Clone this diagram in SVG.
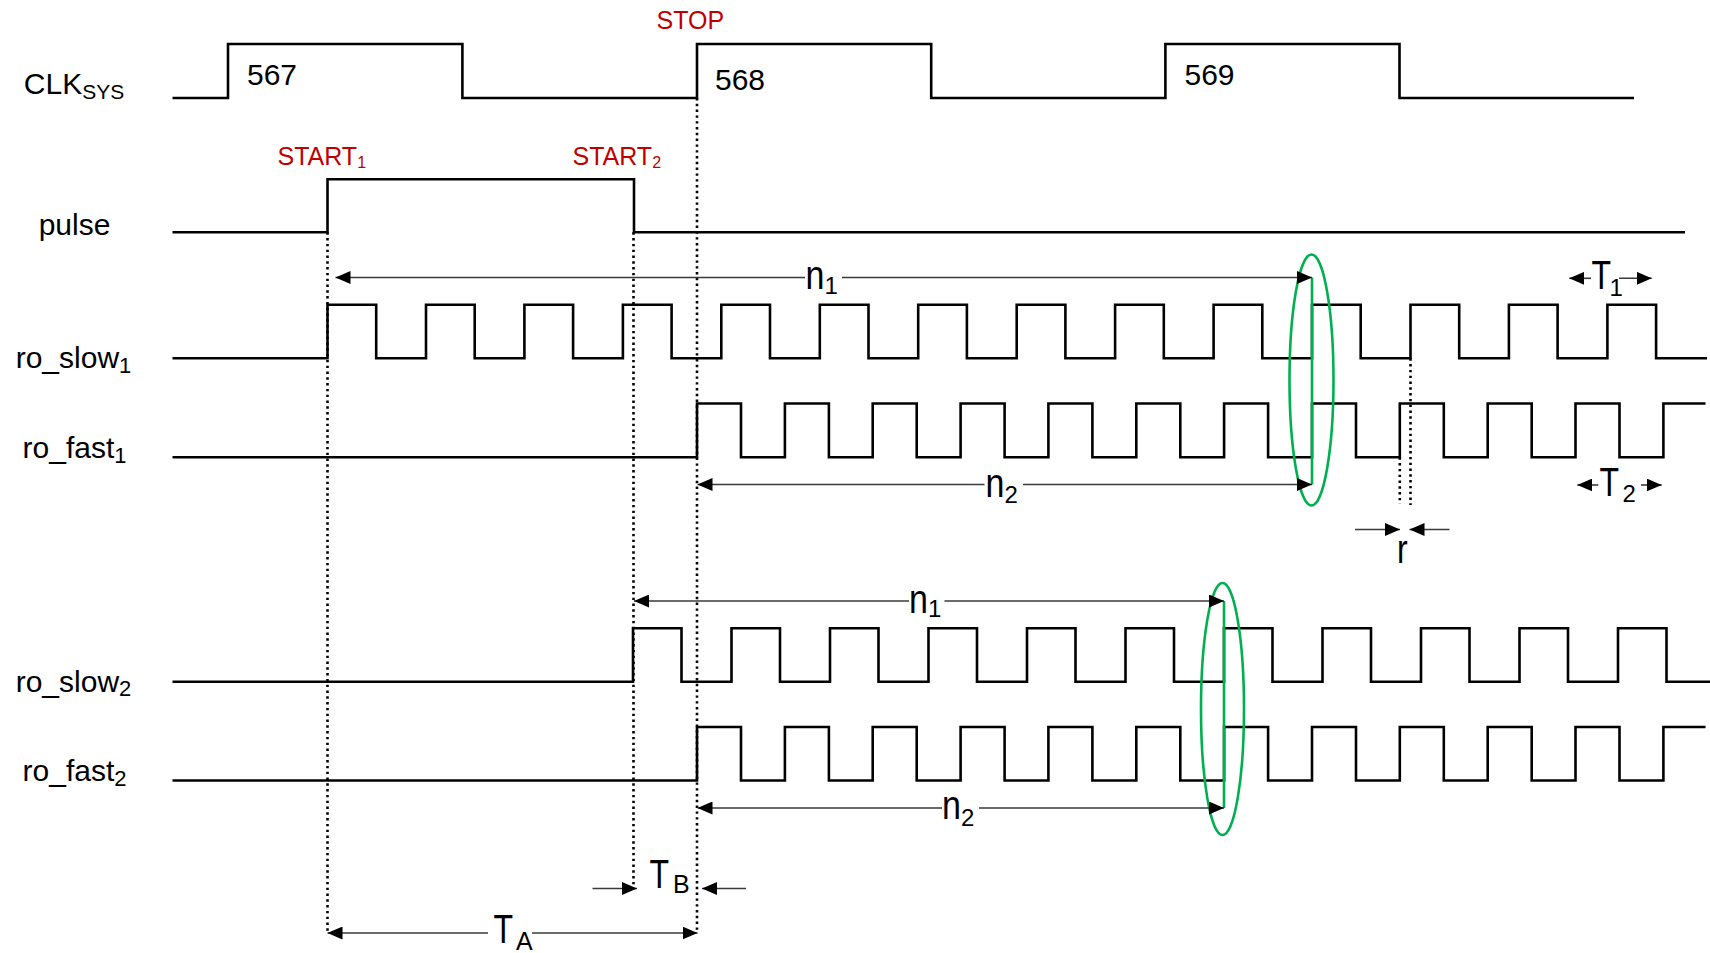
<svg xmlns="http://www.w3.org/2000/svg" width="1710" height="953" viewBox="0 0 1710 953">
<style>
.w{fill:none;stroke:#000;stroke-width:2.6}
.dot{fill:none;stroke:#000;stroke-width:2.6;stroke-dasharray:2.4 3.4}
.dim{fill:none;stroke:#3a3a3a;stroke-width:1.6;marker-end:url(#ah)}
.g{fill:none;stroke:#00B050;stroke-width:2.6}
.lbl{font-family:"Liberation Sans",Arial,sans-serif;font-size:30px;fill:#000}
.red{font-family:"Liberation Sans",Arial,sans-serif;font-size:25px;fill:#C00000}
.big{font-family:"Liberation Sans",Arial,sans-serif;font-size:40px;fill:#000}
.sub{font-family:"Liberation Sans",Arial,sans-serif;font-size:24px;fill:#000}
.subl{font-family:"Liberation Sans",Arial,sans-serif;font-size:25px;fill:#000}
</style>
<defs>
<marker id="ah" markerUnits="userSpaceOnUse" markerWidth="15" markerHeight="13" refX="15" refY="6.5" orient="auto"><path d="M0,0 L15,6.5 L0,13 Z" fill="#000"/></marker>
</defs>
<rect width="1710" height="953" fill="#fff"/>

<g id="clk">
<text class="lbl" x="74" y="94.3" text-anchor="middle">CLK<tspan font-size="21" dy="5">SYS</tspan></text>
<path class="w" d="M172.5,98 H228 V44 H462.4 V98 H697 V44 H931.2 V98 H1165.4 V44 H1399.5 V98 H1634"/>
<text class="lbl" x="247" y="85">567</text>
<text class="lbl" x="715" y="90">568</text>
<text class="lbl" x="1184.5" y="85">569</text>
<text class="red" x="656.5" y="28.5">STOP</text>
</g>

<g id="pulse">
<text class="lbl" x="74.5" y="235" text-anchor="middle">pulse</text>
<path class="w" d="M172.5,232.3 H327.5 V179.3 H634 V232.3 H1685"/>
<text class="red" x="277.5" y="164.5">START<tspan font-size="16" dy="3">1</tspan></text>
<text class="red" x="572.5" y="164.5">START<tspan font-size="16" dy="3">2</tspan></text>
</g>

<g id="ro_slow1">
<text class="lbl" x="73.5" y="368" text-anchor="middle">ro_slow<tspan font-size="22" dy="4.5">1</tspan></text>
<path class="w" d="M172.5,358.3 H327.5 V304.7 H376.2 V358.3 H426 V304.7 H474.7 V358.3 H524.4 V304.7 H573.1 V358.3 H622.9 V304.7 H671.6 V358.3 H721.3 V304.7 H770 V358.3 H819.8 V304.7 H868.5 V358.3 H918.2 V304.7 H966.9 V358.3 H1016.7 V304.7 H1065.4 V358.3 H1115.1 V304.7 H1163.8 V358.3 H1213.6 V304.7 H1262.3 V358.3 H1312 V304.7 H1360.7 V358.3 H1410.5 V304.7 H1459.2 V358.3 H1508.9 V304.7 H1557.6 V358.3 H1607.4 V304.7 H1656.1 V358.3 H1707"/>
</g>

<g id="ro_fast1">
<text class="lbl" x="74.5" y="458" text-anchor="middle">ro_fast<tspan font-size="22" dy="4.5">1</tspan></text>
<path class="w" d="M172.5,457.3 H697 V403.5 H741 V457.3 H784.9 V403.5 H828.9 V457.3 H872.7 V403.5 H916.7 V457.3 H960.6 V403.5 H1004.6 V457.3 H1048.4 V403.5 H1092.4 V457.3 H1136.3 V403.5 H1180.3 V457.3 H1224.1 V403.5 H1268.1 V457.3 H1312 V403.5 H1356 V457.3 H1399.8 V403.5 H1443.8 V457.3 H1487.7 V403.5 H1531.7 V457.3 H1575.5 V403.5 H1619.5 V457.3 H1663.4 V403.5 H1705.5"/>
</g>

<g id="ro_slow2">
<text class="lbl" x="73.5" y="691.7" text-anchor="middle">ro_slow<tspan font-size="22" dy="4.5">2</tspan></text>
<path class="w" d="M172.5,681.7 H633 V628.2 H681.5 V681.7 H731.5 V628.2 H780 V681.7 H830 V628.2 H878.5 V681.7 H928.5 V628.2 H977 V681.7 H1027 V628.2 H1075.5 V681.7 H1125.5 V628.2 H1174 V681.7 H1224 V628.2 H1272.5 V681.7 H1322.5 V628.2 H1371 V681.7 H1421 V628.2 H1469.5 V681.7 H1519.5 V628.2 H1568 V681.7 H1618 V628.2 H1666.5 V681.7 H1710"/>
</g>

<g id="ro_fast2">
<text class="lbl" x="74.5" y="781" text-anchor="middle">ro_fast<tspan font-size="22" dy="4.5">2</tspan></text>
<path class="w" d="M172.5,780.5 H697 V727 H741 V780.5 H784.9 V727 H828.9 V780.5 H872.7 V727 H916.7 V780.5 H960.6 V727 H1004.6 V780.5 H1048.4 V727 H1092.4 V780.5 H1136.3 V727 H1180.3 V780.5 H1224.1 V727 H1268.1 V780.5 H1312 V727 H1356 V780.5 H1399.8 V727 H1443.8 V780.5 H1487.7 V727 H1531.7 V780.5 H1575.5 V727 H1619.5 V780.5 H1663.4 V727 H1705.5"/>
</g>

<g id="guides">
<path class="dot" d="M327.5,232.3 V933 M633.5,232.3 V888 M697,98 V933 M1399.8,457.3 V504 M1410.5,358.3 V505"/>
</g>

<g id="coincidence">
<path class="g" d="M1312,277.5 V484.5 M1224,601 V808"/>
<ellipse class="g" cx="1311.5" cy="380" rx="22" ry="125.5"/>
<ellipse class="g" cx="1222.5" cy="709" rx="21.5" ry="126"/>
</g>

<g id="connectors">
<path class="dim" d="M805,277.5 H335.5"/>
<path class="dim" d="M842,277.5 H1312"/>
<path class="dim" d="M984.5,484.5 H697.5"/>
<path class="dim" d="M1023,484.5 H1312"/>
<path class="dim" d="M909,601 H634"/>
<path class="dim" d="M944.5,601 H1224"/>
<path class="dim" d="M942,808 H697.5"/>
<path class="dim" d="M979,808 H1224"/>
<path class="dim" d="M488,933 H327.5"/>
<path class="dim" d="M532,933 H697.5"/>
<path class="dim" d="M592.5,888.5 H637"/>
<path class="dim" d="M746,888.5 H702"/>
<path class="dim" d="M1355,529.5 H1400"/>
<path class="dim" d="M1449.5,529.5 H1409.5"/>
<path class="dim" d="M1591,278.3 H1569.3"/>
<path class="dim" d="M1619,278.3 H1651.7"/>
<path class="dim" d="M1598.3,485 H1577.3"/>
<path class="dim" d="M1641,485 H1661.7"/>
</g>

<g id="dim-labels">
<text class="big" transform="translate(805.5,289.3) scale(0.85,1)">n</text>
<text class="sub" x="824.5" y="294">1</text>
<text class="big" transform="translate(985.5,496.7) scale(0.85,1)">n</text>
<text class="sub" x="1004.5" y="502.5">2</text>
<text class="big" transform="translate(909,612.5) scale(0.85,1)">n</text>
<text class="sub" x="928" y="617">1</text>
<text class="big" transform="translate(942,819.3) scale(0.85,1)">n</text>
<text class="sub" x="961" y="825.5">2</text>
<text class="big" transform="translate(493.5,943.3) scale(0.8,1)">T</text>
<text class="subl" x="516" y="950">A</text>
<text class="big" transform="translate(649.5,888.3) scale(0.8,1)">T</text>
<text class="subl" x="673" y="893.3">B</text>
<text class="big" transform="translate(1591.5,289) scale(0.8,1)">T</text>
<text class="sub" x="1609.5" y="296">1</text>
<text class="big" transform="translate(1599.5,495.7) scale(0.8,1)">T</text>
<text class="sub" x="1622.5" y="502">2</text>
<text class="big" transform="translate(1397,563.3) scale(0.8,1)">r</text>
</g>
</svg>
